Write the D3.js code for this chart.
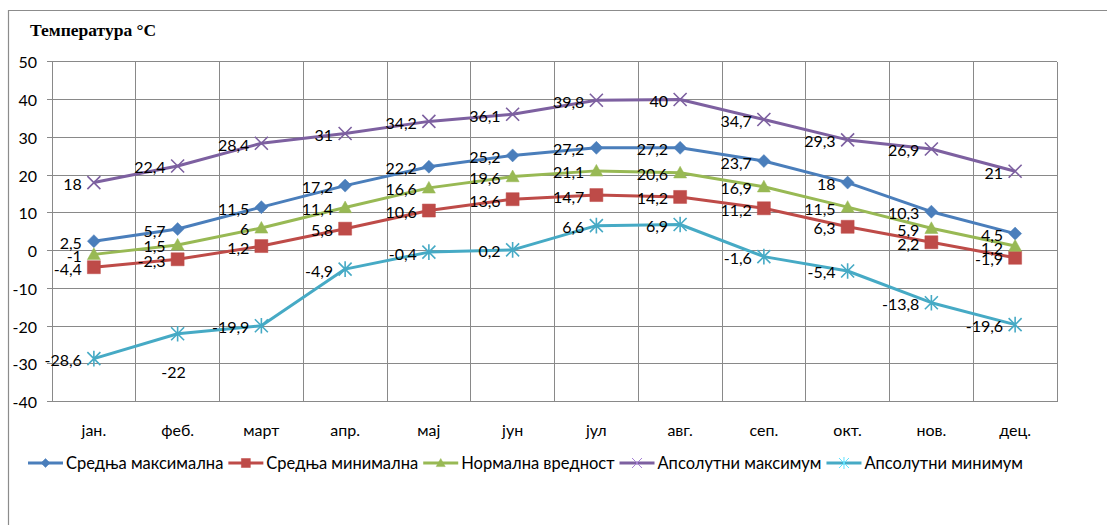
<!DOCTYPE html>
<html>
<head>
<meta charset="utf-8">
<script src="https://cdn.jsdelivr.net/npm/d3@7"></script>
<style>
  body { margin: 0; background: #fff; }
  svg { display: block; }
  text { font-family: Lato, "Open Sans", sans-serif; fill: #000; }
</style>
</head>
<body>
<svg id="chart" width="1107" height="525"></svg>
<script>
// data
var months = ["јан.", "феб.", "март", "апр.", "мај", "јун", "јул", "авг.", "сеп.", "окт.", "нов.", "дец."];
var srednjaMax = [2.5, 5.7, 11.5, 17.2, 22.2, 25.2, 27.2, 27.2, 23.7, 18, 10.3, 4.5];
var srednjaMin = [-4.4, -2.3, 1.2, 5.8, 10.6, 13.6, 14.7, 14.2, 11.2, 6.3, 2.2, -1.9];
var normalna = [-1, 1.5, 6, 11.4, 16.6, 19.6, 21.1, 20.6, 16.9, 11.5, 5.9, 1.2];
var apsMax = [18, 22.4, 28.4, 31, 34.2, 36.1, 39.8, 40, 34.7, 29.3, 26.9, 21];
var apsMin = [-28.6, -22, -19.9, -4.9, -0.4, 0.2, 6.6, 6.9, -1.6, -5.4, -13.8, -19.6];
var yTicks = [50, 40, 30, 20, 10, 0, -10, -20, -30, -40];

var series = [
  {name: "Средња максимална", values: srednjaMax, color: "#4A7EBB", marker: "diamond"},
  {name: "Средња минимална", values: srednjaMin, color: "#BE4B48", marker: "square"},
  {name: "Нормална вредност", values: normalna, color: "#98B954", marker: "triangle"},
  {name: "Апсолутни максимум", values: apsMax, color: "#7D60A0", marker: "x"},
  {name: "Апсолутни минимум", values: apsMin, color: "#46AAC5", marker: "star"}
];

var svg = d3.select("#chart");
var plotL = 52, plotR = 1057, plotT = 61.7, plotB = 401.7;

var x = d3.scaleBand().domain(months).range([plotL, plotR]);
var y = d3.scaleLinear().domain([-40, 50]).range([plotB, plotT]);

// outer frame
svg.append("path")
  .attr("d", "M8.5,525 V10.5 H1107")
  .attr("fill", "none").attr("stroke", "#8c8c8c").attr("stroke-width", 1.2);

// title
svg.append("text")
  .attr("x", 30).attr("y", 36)
  .style("font-family", "'Liberation Serif', 'Times New Roman', serif")
  .style("font-weight", "bold").style("font-size", "17.5px")
  .text("Температура °C");

// grid
var grid = svg.append("g").attr("stroke", "#898989").attr("stroke-width", 1).attr("shape-rendering", "crispEdges");
yTicks.forEach(function (t) {
  grid.append("line").attr("x1", plotL - 5).attr("x2", plotR).attr("y1", y(t)).attr("y2", y(t));
});
months.forEach(function (m) {
  grid.append("line").attr("x1", x(m)).attr("x2", x(m)).attr("y1", plotT).attr("y2", plotB);
});
grid.append("line").attr("x1", plotR).attr("x2", plotR).attr("y1", plotT).attr("y2", plotB);

// y labels
svg.append("g").selectAll("text").data(yTicks).enter().append("text")
  .attr("x", 37).attr("y", function (d) { return y(d); })
  .attr("text-anchor", "end").attr("dominant-baseline", "central")
  .style("font-size", "16px")
  .text(function (d) { return d; });

// x labels
svg.append("g").selectAll("text").data(months).enter().append("text")
  .attr("x", function (d) { return x(d) + x.bandwidth() / 2; })
  .attr("y", 429)
  .attr("text-anchor", "middle").attr("dominant-baseline", "central")
  .style("font-size", "16px")
  .text(function (d) { return d; });

function markerPath(type, s) {
  var h = s / 2;
  if (type == "diamond") return "M0," + (-h) + "L" + h + ",0L0," + h + "L" + (-h) + ",0Z";
  if (type == "square") return "M" + (-h) + "," + (-h) + "H" + h + "V" + h + "H" + (-h) + "Z";
  if (type == "triangle") return "M0," + (-h) + "L" + h + "," + (h * 0.8) + "L" + (-h) + "," + (h * 0.8) + "Z";
  if (type == "x") return "M" + (-h) + "," + (-h) + "L" + h + "," + h + "M" + h + "," + (-h) + "L" + (-h) + "," + h;
  return "M" + (-h) + "," + (-h) + "L" + h + "," + h + "M" + h + "," + (-h) + "L" + (-h) + "," + h + "M0," + (-h * 1.2) + "V" + (h * 1.2);
}
function isStroked(type) { return type == "x" || type == "star"; }

var cx = function (d, i) { return x(months[i]) + x.bandwidth() / 2; };

var line = d3.line()
  .x(function (d, i) { return cx(d, i); })
  .y(function (d) { return y(d); });

var fmt = function (v) { return String(v).replace(".", ","); };

series.forEach(function (s) {
  var g = svg.append("g");
  g.append("path").datum(s.values)
    .attr("d", line).attr("fill", "none")
    .attr("stroke", s.color).attr("stroke-width", 3).attr("stroke-linejoin", "round");

  g.selectAll(".m").data(s.values).enter().append("path")
    .attr("transform", function (d, i) { return "translate(" + cx(d, i) + "," + y(d) + ")"; })
    .attr("d", markerPath(s.marker, 13))
    .attr("fill", isStroked(s.marker) ? "none" : s.color)
    .attr("stroke", s.color)
    .attr("stroke-width", isStroked(s.marker) ? 1.6 : 0.5);
});

// data labels (left of point, one below)
series.forEach(function (s) {
  svg.append("g").selectAll("text").data(s.values).enter().append("text")
    .attr("x", function (d, i) {
      if (s.values === apsMin && i == 1) return cx(d, i) - 4;
      return cx(d, i) - 12;
    })
    .attr("y", function (d, i) {
      if (s.values === apsMin && i == 1) return y(d) + 38;
      return y(d) + 1;
    })
    .attr("text-anchor", function (d, i) { return (s.values === apsMin && i == 1) ? "middle" : "end"; })
    .attr("dominant-baseline", "central")
    .style("font-size", "16px")
    .text(fmt);
});

// legend
var lx = 28, ly = 463;
series.forEach(function (s) {
  var g = svg.append("g").attr("transform", "translate(" + lx + "," + ly + ")");
  g.append("line").attr("x1", 0).attr("x2", 35).attr("y1", 0).attr("y2", 0)
    .attr("stroke", s.color).attr("stroke-width", 3);
  g.append("path").attr("transform", "translate(17.5,0)")
    .attr("d", markerPath(s.marker, isStroked(s.marker) ? 10 : 9))
    .attr("fill", isStroked(s.marker) ? "none" : s.color)
    .attr("stroke", isStroked(s.marker) ? d3.color(s.color).brighter(0.8) : s.color)
    .attr("stroke-width", isStroked(s.marker) ? 1 : 0.5);
  var t = g.append("text").attr("x", 38).attr("y", 0)
    .attr("dominant-baseline", "central").style("font-size", "16.5px")
    .text(s.name);
  lx += 38 + t.node().getComputedTextLength() + 5;
});
</script>
</body>
</html>
